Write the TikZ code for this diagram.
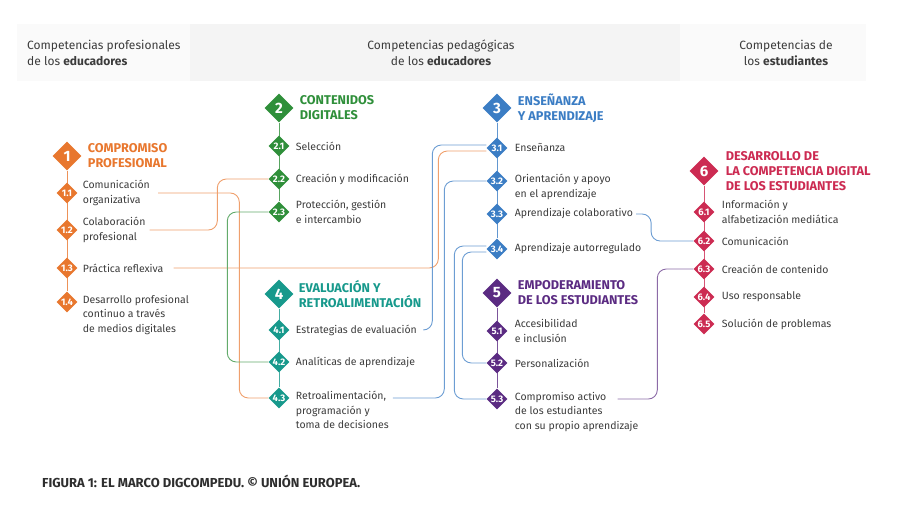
\documentclass[tikz,border=0pt]{standalone}
\usepackage{fontspec}
\setmainfont{Fira Sans}
\usepackage{xcolor}
\definecolor{tg2}{gray}{0.980}
\definecolor{tg5}{gray}{0.955}
\definecolor{txtgray}{HTML}{3C3C3C}
\definecolor{capgray}{HTML}{2E2E2E}
\definecolor{orangearea}{HTML}{E8772E}
\definecolor{greenarea}{HTML}{2F8F3A}
\definecolor{tealarea}{HTML}{17998C}
\definecolor{bluearea}{HTML}{3B7DC4}
\definecolor{purplearea}{HTML}{5B2B82}
\definecolor{redarea}{HTML}{CC2B52}
\colorlet{orangelink}{orangearea!70!white}
\colorlet{greenlink}{greenarea!75!white}
\colorlet{bluelink}{bluearea!75!white}
\colorlet{purplelink}{purplearea!70!white}
\usepackage{tikz}
\usetikzlibrary{shapes.geometric,positioning,calc,backgrounds}

\begin{document}
\begin{tikzpicture}[
  x=1pt, y=-1pt,
  area/.style={
    diamond, fill=#1, inner sep=0pt, minimum size=29pt,
    text=white, font=\bfseries\fontsize{15}{15}\selectfont
  },
  sub/.style={
    diamond, fill=#1, inner sep=0pt, minimum size=21pt,
    text=white, font=\bfseries\fontsize{9.5}{10}\selectfont
  },
  title/.style={
    align=left, inner sep=0pt, text=#1,
    font=\bfseries\fontsize{12.7}{15}\selectfont
  },
  item/.style={
    align=left, inner sep=0pt, text=txtgray,
    font=\fontsize{10.5}{14.5}\selectfont
  },
  head/.style={
    align=center, inner sep=0pt, text=txtgray,
    font=\fontsize{12}{16}\selectfont
  },
  stem/.style={line width=1pt, color=#1},
  link/.style={line width=0.9pt, color=#1, rounded corners=9pt}
]
\useasboundingbox (0,0) rectangle (900,505);

% bandeau
\fill[tg2] (17,24) rectangle (190,81);
\fill[tg5] (190,24) rectangle (680,81);
\fill[tg2] (680,24) rectangle (866,81);
\node[head, align=left, anchor=west] (hl) at (27,53) {Competencias profesionales\\de los \textbf{educadores}};
\node[head] (hm) at (441,53) {Competencias pedagógicas\\de los \textbf{educadores}};
\node[head] (hr) at (786,53) {Competencias de\\los \textbf{estudiantes}};

% 1
\node[area=orangearea] (a1) at (67,156) {1};
\node[title=orangearea, right=6pt of a1] (t1) {COMPROMISO\\PROFESIONAL};
\node[sub=orangearea] (s11) at (67,193) {1.1};
\node[sub=orangearea] (s12) at (67,230) {1.2};
\node[sub=orangearea] (s13) at (67,268) {1.3};
\node[sub=orangearea] (s14) at (67,302) {1.4};
\node[item, right=5pt of s11] (i11) {Comunicación\\organizativa};
\node[item, right=5pt of s12] (i12) {Colaboración\\profesional};
\node[item, right=5pt of s13] (i13) {Práctica reflexiva};
\node[item, anchor=north west] (i14) at ([xshift=5pt,yshift=7pt]s14.east) {Desarrollo profesional\\continuo a través\\de medios digitales};

% 2
\node[area=greenarea] (a2) at (279,108) {2};
\node[title=greenarea, right=6pt of a2] (t2) {CONTENIDOS\\DIGITALES};
\node[sub=greenarea] (s21) at (279,146) {2.1};
\node[sub=greenarea] (s22) at (279,179) {2.2};
\node[sub=greenarea] (s23) at (279,212) {2.3};
\node[item, right=6pt of s21] (i21) {Selección};
\node[item, right=6pt of s22] (i22) {Creación y modificación};
\node[item, right=6pt of s23] (i23) {Protección, gestión\\e intercambio};

% 4
\node[area=tealarea] (a4) at (279,294) {4};
\node[title=tealarea, right=5pt of a4] (t4) {EVALUACIÓN Y\\RETROALIMENTACIÓN};
\node[sub=tealarea] (s41) at (279,330) {4.1};
\node[sub=tealarea] (s42) at (279,362) {4.2};
\node[sub=tealarea] (s43) at (279,398) {4.3};
\node[item, right=6pt of s41] (i41) {Estrategias de evaluación};
\node[item, right=6pt of s42] (i42) {Analíticas de aprendizaje};
\node[item, anchor=north west] (i43) at ([xshift=6pt,yshift=7pt]s43.east) {Retroalimentación,\\programación y\\toma de decisiones};

% 3
\node[area=bluearea] (a3) at (497,108) {3};
\node[title=bluearea, right=6pt of a3] (t3) {ENSEÑANZA\\Y APRENDIZAJE};
\node[sub=bluearea] (s31) at (497,148) {3.1};
\node[sub=bluearea] (s32) at (497,181) {3.2};
\node[sub=bluearea] (s33) at (497,214) {3.3};
\node[sub=bluearea] (s34) at (497,249) {3.4};
\node[item, right=7pt of s31] (i31) {Enseñanza};
\node[item, anchor=north west] (i32) at ([xshift=7pt,yshift=7pt]s32.east) {Orientación y apoyo\\en el aprendizaje};
\node[item, right=7pt of s33] (i33) {Aprendizaje colaborativo};
\node[item, right=7pt of s34] (i34) {Aprendizaje autorregulado};

% 5
\node[area=purplearea] (a5) at (497,293) {5};
\node[title=purplearea, right=6pt of a5] (t5) {EMPODERAMIENTO\\DE LOS ESTUDIANTES};
\node[sub=purplearea] (s51) at (497,331) {5.1};
\node[sub=purplearea] (s52) at (497,363) {5.2};
\node[sub=purplearea] (s53) at (497,399) {5.3};
\node[item, right=7pt of s51] (i51) {Accesibilidad\\e inclusión};
\node[item, right=7pt of s52] (i52) {Personalización};
\node[item, anchor=north west] (i53) at ([xshift=7pt,yshift=7pt]s53.east) {Compromiso activo\\de los estudiantes\\con su propio aprendizaje};

% 6
\node[area=redarea] (a6) at (704,171) {6};
\node[title=redarea, right=7pt of a6] (t6) {DESARROLLO DE\\LA COMPETENCIA DIGITAL\\DE LOS ESTUDIANTES};
\node[sub=redarea] (s61) at (704,212) {6.1};
\node[sub=redarea] (s62) at (704,241) {6.2};
\node[sub=redarea] (s63) at (704,269) {6.3};
\node[sub=redarea] (s64) at (704,297) {6.4};
\node[sub=redarea] (s65) at (704,324) {6.5};
\node[item, right=7pt of s61] (i61) {Información y\\alfabetización mediática};
\node[item, right=7pt of s62] (i62) {Comunicación};
\node[item, right=7pt of s63] (i63) {Creación de contenido};
\node[item, right=7pt of s64] (i64) {Uso responsable};
\node[item, right=7pt of s65] (i65) {Solución de problemas};

\node[anchor=west, inner sep=0pt, text=capgray, font=\bfseries\fontsize{13}{14}\selectfont] (cap) at (42,481)
  {FIGURA 1: EL MARCO DIGCOMPEDU. © UNIÓN EUROPEA.};

\begin{scope}[on background layer]
\foreach \a/\b/\c in {a1/s14/orangearea,a2/s23/greenarea,a4/s43/tealarea,a3/s34/bluearea,a5/s53/purplearea,a6/s65/redarea} {
  \draw[stem=\c!80!white] (\a) -- (\b);
}
\end{scope}

% enlaces
\draw[link=orangelink] ([xshift=8pt]i11.east) -| ($(s43.west)+(-29,0)$) -- (s43.west);
\draw[link=orangelink] ([xshift=4pt]i12.east) -| ($(s22.west)+(-51,0)$) -- (s22.west);
\draw[link=orangelink] ([xshift=10pt]i13.east) -| ($(s31.west)+(-48,3)$) -- ([yshift=-3pt]s31.west);
\draw[link=greenlink] (s23.west) -| ($(s42.west)+(-41,0)$) -- (s42.west);
\draw[link=bluelink] ([xshift=7pt]i41.east) -| ($(s31.west)+(-54,-3)$) -- ([yshift=3pt]s31.west);
\draw[link=bluelink] ($(i43.east |- s43)+(4,0)$) -| ($(s32.west)+(-42,0)$) -- (s32.west);
\draw[link=bluelink] ([yshift=3pt]s34.west) -| ($(s53.west)+(-32,0)$) -- (s53.west);
\draw[link=bluelink] ([yshift=-3pt]s34.west) -| ($(s52.west)+(-24,0)$) -- (s52.west);
\draw[link=bluelink] ([xshift=3pt]i33.east) -- ++(15,0) |- (s62.west);
\draw[link=purplelink] ($(i53.east |- s53)+(-21,0)$) -| ($(s63.west)+(-36,0)$) -- (s63.west);
\end{tikzpicture}
\end{document}
